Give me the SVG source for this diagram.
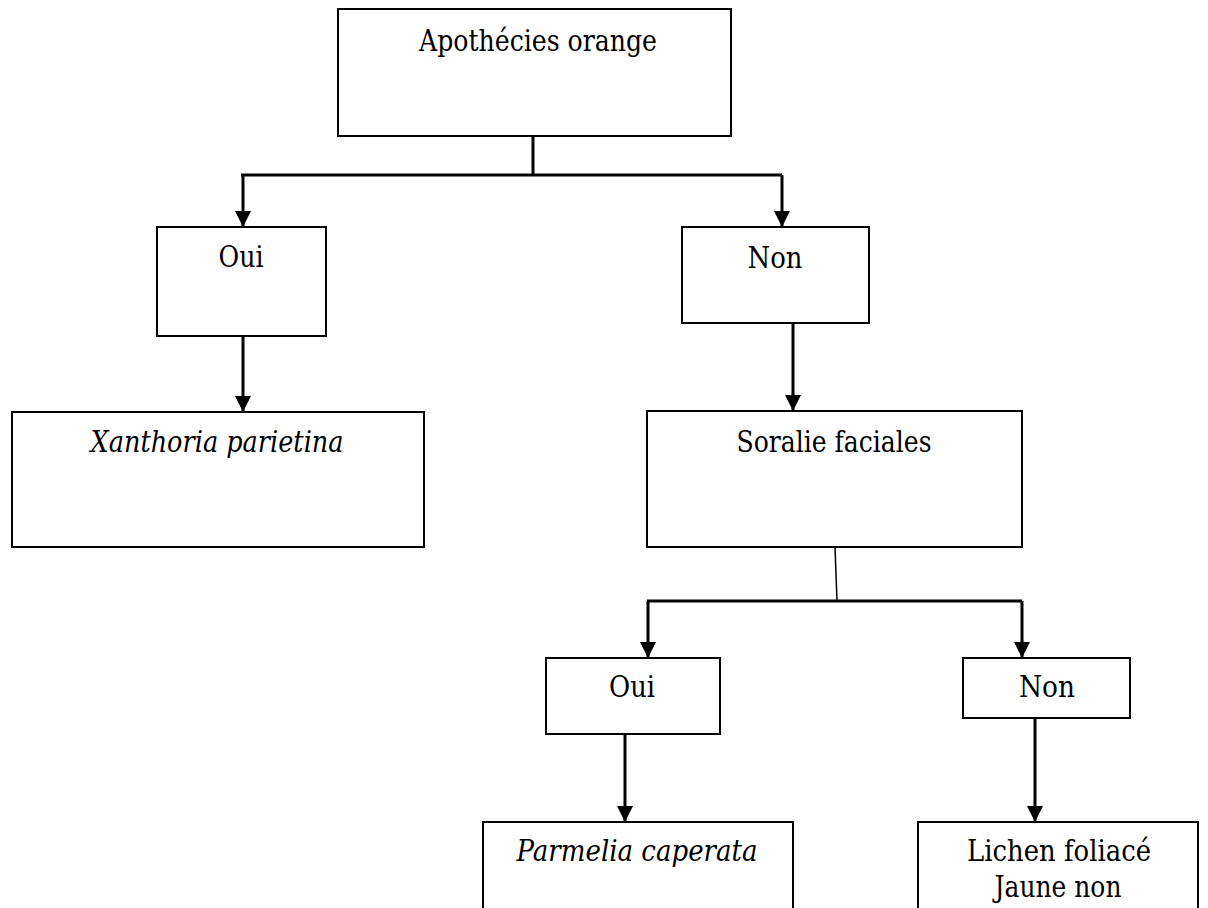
<svg xmlns="http://www.w3.org/2000/svg" width="1208" height="908" viewBox="0 0 1208 908">
<style>
.box{fill:#fff;stroke:#000;stroke-width:2}
.t{font-family:'DejaVu Serif','Liberation Serif',serif;font-size:30px;fill:#000;text-anchor:middle}
.i{font-style:italic}
.c{fill:none;stroke:#000;stroke-width:3}
.thin{fill:none;stroke:#000;stroke-width:1.5}
</style>
<defs>
<marker id="ah" markerUnits="userSpaceOnUse" markerWidth="18" markerHeight="16" refX="16" refY="8" orient="auto">
<path d="M0,0 L16,8 L0,16 Z" fill="#000"/>
</marker>
</defs>
<rect width="1208" height="908" fill="#fff"/>
<g id="connectors">
<path class="c" d="M533,136 V175"/>
<path class="c" d="M241,175 H782"/>
<path class="c" d="M243,175 V227" marker-end="url(#ah)"/>
<path class="c" d="M782,175 V227" marker-end="url(#ah)"/>
<path class="c" d="M243,336 V412" marker-end="url(#ah)"/>
<path class="c" d="M793,323 V411" marker-end="url(#ah)"/>
<path class="thin" d="M835,547 L837,601"/>
<path class="c" d="M647,601 H1022"/>
<path class="c" d="M648,601 V658" marker-end="url(#ah)"/>
<path class="c" d="M1022,601 V658" marker-end="url(#ah)"/>
<path class="c" d="M625,734 V822" marker-end="url(#ah)"/>
<path class="c" d="M1035,718 V822" marker-end="url(#ah)"/>
</g>
<g id="n-apothecies">
<rect class="box" x="338" y="9" width="393" height="127"/>
<text class="t" x="538" y="51" textLength="238" lengthAdjust="spacingAndGlyphs">Apothécies orange</text>
</g>
<g id="n-oui1">
<rect class="box" x="157" y="227" width="169" height="109"/>
<text class="t" x="241" y="267" textLength="45" lengthAdjust="spacingAndGlyphs">Oui</text>
</g>
<g id="n-non1">
<rect class="box" x="682" y="227" width="187" height="96"/>
<text class="t" x="775" y="268" textLength="55" lengthAdjust="spacingAndGlyphs">Non</text>
</g>
<g id="n-xanthoria">
<rect class="box" x="12" y="412" width="412" height="135"/>
<text class="t i" x="217" y="452" textLength="253" lengthAdjust="spacingAndGlyphs">Xanthoria parietina</text>
</g>
<g id="n-soralie">
<rect class="box" x="647" y="411" width="375" height="136"/>
<text class="t" x="834" y="452" textLength="195" lengthAdjust="spacingAndGlyphs">Soralie faciales</text>
</g>
<g id="n-oui2">
<rect class="box" x="546" y="658" width="174" height="76"/>
<text class="t" x="632" y="697" textLength="46" lengthAdjust="spacingAndGlyphs">Oui</text>
</g>
<g id="n-non2">
<rect class="box" x="963" y="658" width="167" height="60"/>
<text class="t" x="1047" y="697" textLength="56" lengthAdjust="spacingAndGlyphs">Non</text>
</g>
<g id="n-parmelia">
<rect class="box" x="483" y="822" width="310" height="100"/>
<text class="t i" x="637" y="861" textLength="241" lengthAdjust="spacingAndGlyphs">Parmelia caperata</text>
</g>
<g id="n-lichen">
<rect class="box" x="918" y="822" width="280" height="100"/>
<text class="t" x="1059" y="861" textLength="184" lengthAdjust="spacingAndGlyphs">Lichen foliacé</text>
<text class="t" x="1058" y="897" textLength="127" lengthAdjust="spacingAndGlyphs">Jaune non</text>
</g>
</svg>
